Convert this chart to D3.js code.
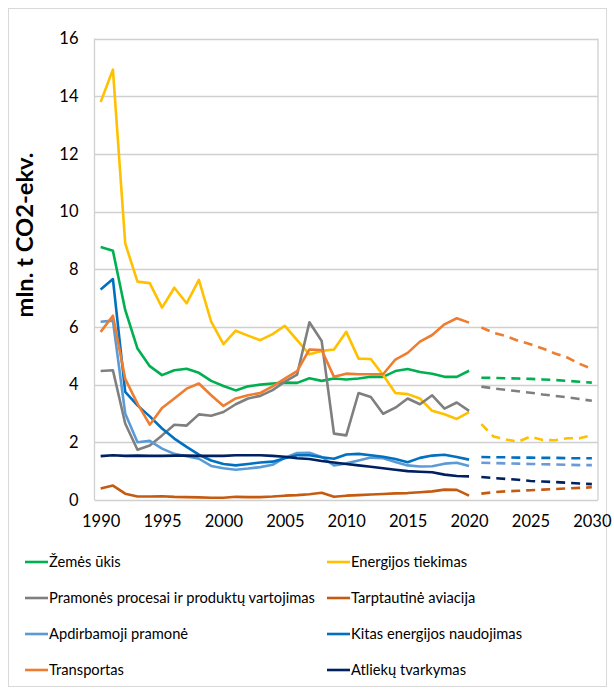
<!DOCTYPE html>
<html><head><meta charset="utf-8">
<script src="https://cdn.jsdelivr.net/npm/d3@7"></script>
<style>body{margin:0;background:#fff}svg{display:block}text{font-family:Lato,"Liberation Sans",Arial,sans-serif}</style>
</head><body><svg id="c" width="614" height="693"></svg>
<script>
const yearsHist = d3.range(1990, 2021);
const yearsProj = d3.range(2021, 2031);
const xTickLabels = [1990, 1995, 2000, 2005, 2010, 2015, 2020, 2025, 2030];
const yTickLabels = [0, 2, 4, 6, 8, 10, 12, 14, 16];
const yTitle = "mln. t CO2-ekv.";

const seriesNames = ["Žemės ūkis","Energijos tiekimas","Pramonės procesai ir produktų vartojimas","Tarptautinė aviacija","Apdirbamoji pramonė","Kitas energijos naudojimas","Transportas","Atliekų tvarkymas"];
const seriesColors = ["#00B050","#FFC000","#7F7F7F","#C55A11","#5B9BD5","#0070C0","#ED7D31","#002060"];
const projColors = ["#00B050","#FFC000","#7F7F7F","#C55A11","#6C9AD8","#0070C0","#ED7D31","#002060"];

const zemesUkis = [8.77,8.64,6.59,5.25,4.64,4.33,4.5,4.55,4.41,4.13,3.95,3.8,3.94,4.0,4.04,4.07,4.06,4.22,4.13,4.21,4.18,4.21,4.27,4.27,4.47,4.54,4.44,4.38,4.27,4.27,4.48];
const energijosTiekimas = [13.8,14.92,8.9,7.57,7.52,6.67,7.36,6.82,7.63,6.18,5.4,5.87,5.7,5.54,5.75,6.04,5.54,5.05,5.17,5.22,5.83,4.9,4.89,4.33,3.71,3.67,3.52,3.09,2.97,2.81,3.05];
const pramonesProcesai = [4.47,4.5,2.65,1.74,1.89,2.24,2.61,2.58,2.97,2.92,3.05,3.32,3.52,3.61,3.81,4.1,4.35,6.16,5.51,2.3,2.24,3.71,3.57,2.99,3.2,3.52,3.32,3.63,3.17,3.38,3.09];
const aviacija = [0.4,0.5,0.22,0.12,0.12,0.13,0.11,0.1,0.09,0.08,0.08,0.11,0.1,0.1,0.12,0.15,0.17,0.2,0.25,0.11,0.15,0.17,0.19,0.21,0.23,0.24,0.27,0.3,0.36,0.35,0.15];
const apdirbamoji = [6.18,6.22,3.0,2.0,2.05,1.78,1.6,1.52,1.43,1.18,1.1,1.05,1.09,1.14,1.22,1.47,1.63,1.64,1.49,1.2,1.27,1.37,1.47,1.45,1.32,1.2,1.16,1.17,1.26,1.29,1.18];
const kitasEnergijos = [7.3,7.66,3.75,3.28,2.9,2.48,2.13,1.84,1.57,1.37,1.25,1.2,1.25,1.3,1.33,1.45,1.55,1.55,1.48,1.43,1.58,1.6,1.55,1.5,1.42,1.31,1.46,1.54,1.57,1.49,1.4];
const transportas = [5.83,6.39,4.2,3.34,2.61,3.19,3.52,3.86,4.04,3.63,3.26,3.52,3.63,3.71,3.94,4.21,4.47,5.22,5.2,4.27,4.38,4.36,4.36,4.36,4.87,5.1,5.49,5.72,6.09,6.3,6.15];
const atlieku = [1.52,1.55,1.53,1.54,1.53,1.53,1.54,1.54,1.53,1.53,1.53,1.55,1.55,1.55,1.53,1.5,1.45,1.42,1.35,1.3,1.25,1.2,1.15,1.1,1.05,1.0,0.98,0.96,0.88,0.83,0.82];

const zemesUkisProj = [4.24,4.23,4.22,4.21,4.2,4.18,4.16,4.13,4.1,4.07];
const energijosProj = [2.63,2.2,2.1,2.02,2.2,2.08,2.07,2.14,2.14,2.25];
const pramonesProj = [3.93,3.87,3.82,3.77,3.72,3.66,3.61,3.56,3.5,3.44];
const aviacijaProj = [0.22,0.27,0.3,0.32,0.34,0.36,0.38,0.4,0.42,0.44];
const apdirbamojiProj = [1.29,1.28,1.27,1.26,1.25,1.24,1.23,1.22,1.21,1.21];
const kitasProj = [1.49,1.48,1.48,1.47,1.47,1.46,1.46,1.45,1.45,1.45];
const transportasProj = [5.98,5.8,5.68,5.52,5.4,5.25,5.08,4.94,4.72,4.55];
const atliekuProj = [0.8,0.76,0.73,0.7,0.66,0.64,0.62,0.6,0.57,0.55];

const hist = [zemesUkis,energijosTiekimas,pramonesProcesai,aviacija,apdirbamoji,kitasEnergijos,transportas,atlieku];
const proj = [zemesUkisProj,energijosProj,pramonesProj,aviacijaProj,apdirbamojiProj,kitasProj,transportasProj,atliekuProj];

const svg = d3.select("#c");
const L = 94.5, R = 598, T = 38.5, B = 500;
const x = d3.scaleLinear().domain([1989.5, 2030.5]).range([L, R]);
const y = d3.scaleLinear().domain([0, 16]).range([B, T]);

svg.append("rect").attr("x", 8.5).attr("y", 8.5).attr("width", 598).attr("height", 678)
  .attr("fill", "#fff").attr("stroke", "#d9d9d9").attr("stroke-width", 1);

svg.append("g").selectAll("line").data(yTickLabels).join("line")
  .attr("x1", L).attr("x2", R).attr("y1", d => Math.round(y(d)) + 0.5).attr("y2", d => Math.round(y(d)) + 0.5)
  .attr("stroke", "#d0d0d0").attr("stroke-width", 1.3);
svg.append("line").attr("x1", L).attr("x2", L).attr("y1", T).attr("y2", B).attr("stroke", "#d0d0d0").attr("stroke-width", 1.3);
svg.append("line").attr("x1", R).attr("x2", R).attr("y1", T).attr("y2", B).attr("stroke", "#d0d0d0").attr("stroke-width", 1.3);

const FONT = 'Lato, "Liberation Sans", Arial, sans-serif';
const yAxis = d3.axisLeft(y).tickValues(yTickLabels).tickSize(0).tickPadding(0).tickFormat(d3.format("d"));
const gy = svg.append("g").attr("transform", `translate(${L - 16},0)`).call(yAxis);
gy.select(".domain").remove();
gy.selectAll("text").attr("font-size", 16.5).attr("fill", "#000").attr("font-family", FONT);

const xAxis = d3.axisBottom(x).tickValues(xTickLabels).tickSize(0).tickPadding(0).tickFormat(d3.format("d"));
const gx = svg.append("g").attr("transform", `translate(0,${B + 15})`).call(xAxis);
gx.select(".domain").remove();
gx.selectAll("text").attr("font-size", 16.5).attr("fill", "#000").attr("font-family", FONT);

const yt = svg.append("text").attr("transform", `translate(33,${235}) rotate(-90)`)
  .attr("text-anchor", "middle").attr("font-weight", "bold").attr("font-size", 16).text(yTitle);

const line = (years) => d3.line().x((d, i) => x(years[i])).y(d => y(d));
const gl = svg.append("g");
hist.forEach((s, k) => {
  gl.append("path").datum(s).attr("d", line(yearsHist)).attr("fill", "none")
    .attr("stroke", seriesColors[k]).attr("stroke-width", 2.6).attr("stroke-linejoin", "round");
});
proj.forEach((s, k) => {
  gl.append("path").datum(s).attr("d", line(yearsProj)).attr("fill", "none")
    .attr("stroke", projColors[k]).attr("stroke-width", 2.6).attr("stroke-dasharray", "9,6");
});

const legX = [25, 327], legY0 = 562, legDY = 36;
const lg = svg.append("g");
seriesNames.forEach((n, i) => {
  const cx = legX[i % 2], cy = legY0 + Math.floor(i / 2) * legDY;
  lg.append("line").attr("x1", cx).attr("x2", cx + 23).attr("y1", cy).attr("y2", cy)
    .attr("stroke", seriesColors[i]).attr("stroke-width", 2.6);
  lg.append("text").attr("class", "lt").attr("x", cx + 24).attr("y", cy).attr("dy", "0.35em")
    .attr("font-size", 16).text(n);
});
const nodes = lg.selectAll(".lt").nodes();
const w = nodes[2].getComputedTextLength();
lg.selectAll(".lt").attr("font-size", 16 * 266 / w);
const tw = yt.node().getComputedTextLength();
yt.attr("font-size", 16 * 165 / tw);
</script></body></html>
